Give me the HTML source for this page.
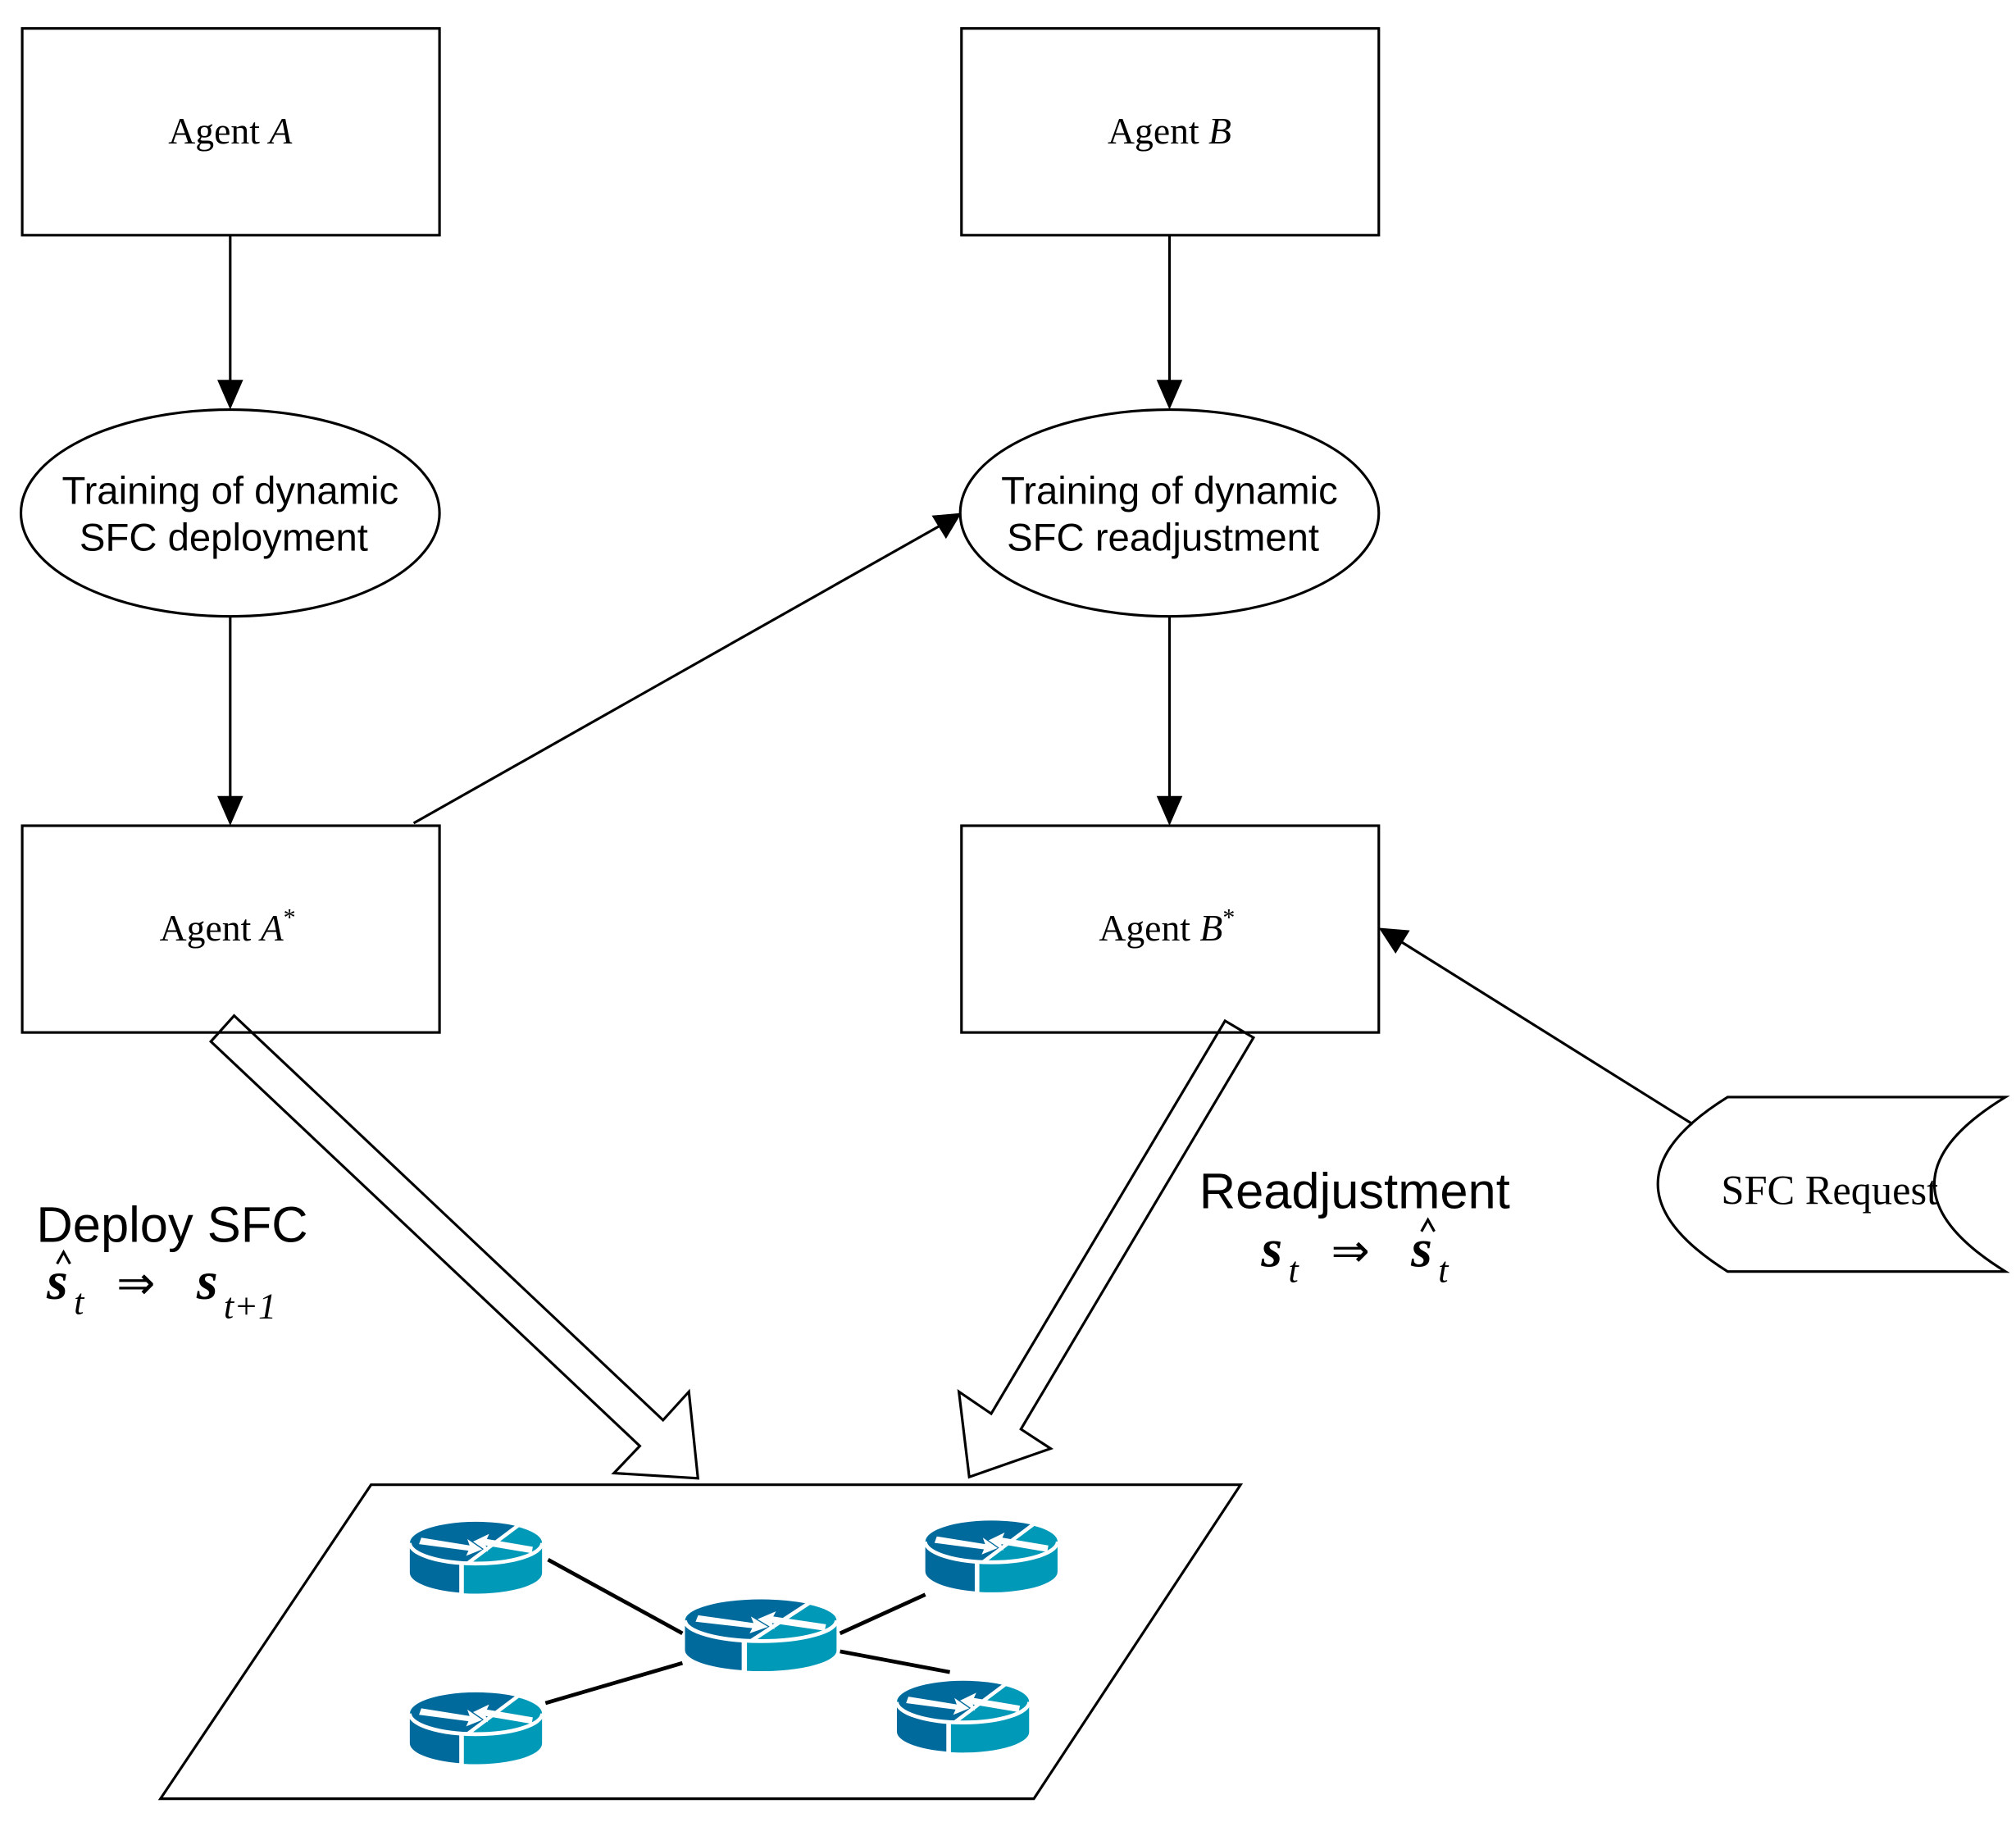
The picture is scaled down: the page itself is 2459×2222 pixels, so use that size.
<!DOCTYPE html>
<html><head><meta charset="utf-8"><style>
html,body{margin:0;padding:0;background:#fff;}
svg{display:block;}
.s{font-family:"Liberation Serif",serif;}
.a{font-family:"Liberation Sans",sans-serif;}
</style></head><body>
<svg width="2459" height="2222" viewBox="0 0 1560 1410" xmlns="http://www.w3.org/2000/svg">
<defs>
<g id="rt">
  <path d="M0,17 L0,40 A57.5,16 0 0 0 43,55.5 L43,32.5 A57.5,16 0 0 1 0,17 Z" fill="#006a9c"/>
  <path d="M47,33 L47,56 A57.5,16 0 0 0 115,40 L115,17 A57.5,16 0 0 1 47,33 Z" fill="#0099b8"/>
  <ellipse cx="57.5" cy="17" rx="57.5" ry="16" fill="#0099b8"/>
  <path d="M0.5,17 A57.5,16 0 0 1 93,4 L50,33 A57.5,16 0 0 1 0.5,17 Z" fill="#006a9c"/>
  <path d="M95,3 L50,33" stroke="#fff" stroke-width="3"/>
  <path d="M10,13 L52,19 L50,14 L63,22 L49,27 L51,23 L8,18 Z" fill="#fff"/>
  <path d="M106,25 L66,19 L68,24 L55,16 L69,10 L67,14 L107,20 Z" fill="#fff"/>
  <path d="M45,32 L45,57" stroke="#fff" stroke-width="3"/>
  <path d="M0,17 A57.5,16 0 0 0 115,17" fill="none" stroke="#fff" stroke-width="3"/>
</g>
</defs>
<g fill="none" stroke="#000" stroke-width="2">
<rect x="17" y="22" width="323" height="160"/>
<rect x="744" y="22" width="323" height="160"/>
<ellipse cx="178" cy="397" rx="162" ry="80"/>
<ellipse cx="905" cy="397" rx="162" ry="80"/>
<rect x="17" y="639" width="323" height="160"/>
<rect x="744" y="639" width="323" height="160"/>
<line x1="178" y1="182" x2="178" y2="297"/>
<line x1="178" y1="477" x2="178" y2="619"/>
<line x1="905" y1="182" x2="905" y2="297"/>
<line x1="905" y1="477" x2="905" y2="619"/>
<line x1="320" y1="637" x2="727" y2="407"/>
<line x1="1310" y1="870" x2="1083" y2="728"/>
<path d="M1337,849 L1552,849 Q1442,916 1552,984 L1337,984 Q1229,916 1337,849 Z"/>
<polygon points="181,786 163,806 495,1119 475,1140 540,1144 533,1077 513,1099"/>
<polygon points="948,790 970,803 790,1106 813,1121 750,1143 742,1077 767,1094"/>
<polygon points="287,1149 960,1149 800,1392 124,1392"/>
</g>
<g fill="#000">
<polygon points="178,317 168,294 188,294"/>
<polygon points="178,639 168,616 188,616"/>
<polygon points="905,317 895,294 915,294"/>
<polygon points="905,639 895,616 915,616"/>
<polygon points="744,397 732,417 721,399"/>
<polygon points="1067,718 1091,720 1080,738"/>
</g>
<g stroke="#000" stroke-width="3">
<line x1="424" y1="1207" x2="528" y2="1264"/>
<line x1="650" y1="1264" x2="716" y2="1234"/>
<line x1="650" y1="1278" x2="735" y2="1294"/>
<line x1="422" y1="1318" x2="528" y2="1287"/>
</g>
<use href="#rt" transform="translate(317,1177) scale(0.89,1)"/>
<use href="#rt" transform="translate(716,1176) scale(0.89,1)"/>
<use href="#rt" transform="translate(530,1237) scale(1.02,1)"/>
<use href="#rt" transform="translate(317,1309) scale(0.89,1)"/>
<use href="#rt" transform="translate(694,1300) scale(0.89,1)"/>
<g class="s" font-size="29" text-anchor="middle">
<text x="178" y="111">Agent <tspan font-style="italic">A</tspan></text>
<text x="905" y="111">Agent <tspan font-style="italic">B</tspan></text>
<text x="176" y="728">Agent <tspan font-style="italic">A</tspan><tspan font-size="19" dy="-12">*</tspan></text>
<text x="903" y="728">Agent <tspan font-style="italic">B</tspan><tspan font-size="19" dy="-12">*</tspan></text>
<text x="1416" y="932" font-size="32">SFC Request</text>
</g>
<g class="a" font-size="30" text-anchor="middle">
<text x="178" y="390">Training of dynamic</text>
<text x="173" y="426">SFC deployment</text>
<text x="905" y="390">Training of dynamic</text>
<text x="900" y="426">SFC readjustment</text>
</g>
<g class="a" font-size="39">
<text x="28" y="961">Deploy SFC</text>
<text x="928" y="935">Readjustment</text>
</g>
<g class="s">
<text x="36" y="1005" font-size="42" font-weight="bold" font-style="italic">s</text>
<text x="57" y="1017" font-size="28" font-style="italic">t</text>
<text x="90" y="1005" font-size="36">⇒</text>
<text x="152" y="1005" font-size="42" font-weight="bold" font-style="italic">s</text>
<text x="173" y="1020" font-size="28" font-style="italic">t+1</text>
<text x="976" y="980" font-size="42" font-weight="bold" font-style="italic">s</text>
<text x="997" y="992" font-size="28" font-style="italic">t</text>
<text x="1030" y="980" font-size="36">⇒</text>
<text x="1092" y="980" font-size="42" font-weight="bold" font-style="italic">s</text>
<text x="1113" y="992" font-size="28" font-style="italic">t</text>
</g>
<g fill="none" stroke="#000" stroke-width="2">
<path d="M44,978 L49,969 L54,978"/>
<path d="M1100,953 L1105,944 L1110,953"/>
</g>
</svg>
</body></html>
